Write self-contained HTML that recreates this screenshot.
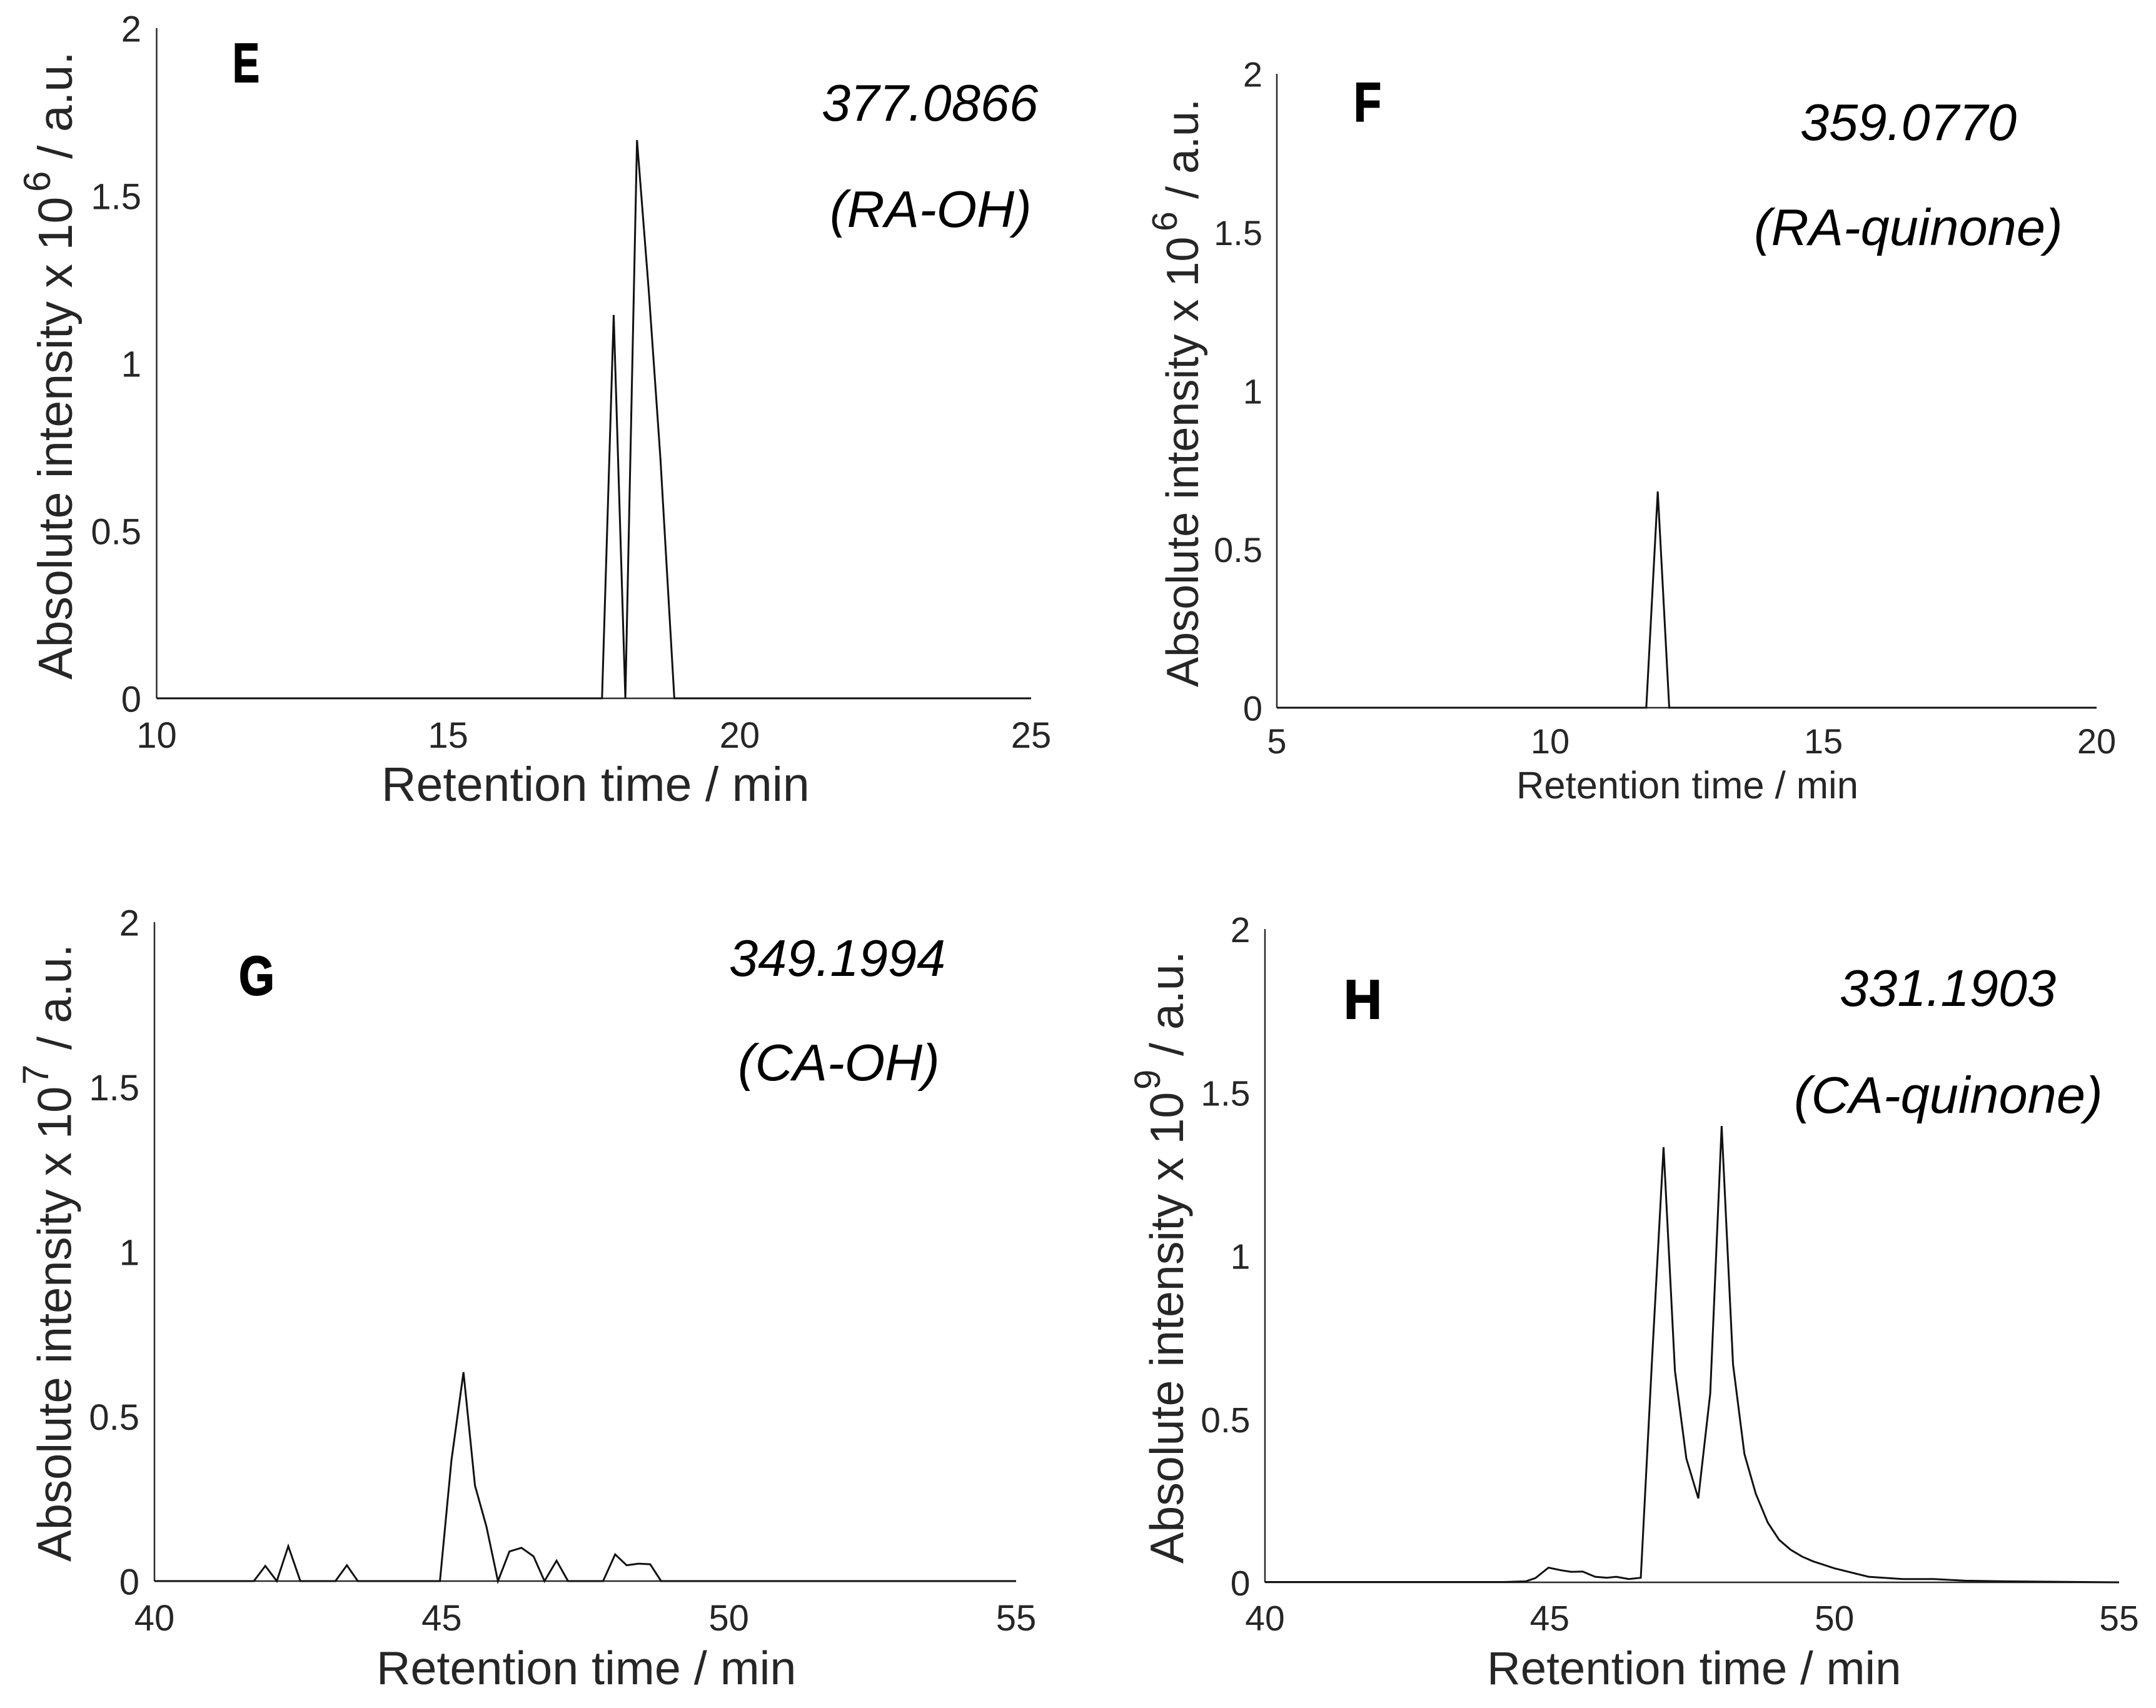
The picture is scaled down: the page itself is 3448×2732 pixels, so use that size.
<!DOCTYPE html>
<html lang="en">
<head>
<meta charset="utf-8">
<title>Retention time chromatograms E–H</title>
<style>
html,body{margin:0;padding:0;background:#fff;width:3448px;height:2732px;overflow:hidden}
svg{display:block;font-family:"Liberation Sans",Arial,sans-serif}
.tick{fill:#262626}
.title{fill:#262626}
.note{font-size:83px;font-style:italic;fill:#000}
.letter{font-size:88px;font-weight:bold;fill:#000;stroke:#000;stroke-width:2}
.axis{stroke:#2b2b2b;stroke-width:2.5;fill:none}
.trace{stroke:#111;stroke-width:3;fill:none;stroke-linejoin:miter}
</style>
</head>
<body>
<svg id="figure" xmlns="http://www.w3.org/2000/svg" width="3448" height="2732" viewBox="0 0 3448 2732">
  <rect width="3448" height="2732" fill="#fff"/>

  <!-- Panel E -->
  <g id="panel-e">
    <g class="title">
      <text transform="translate(115,1087) rotate(-90)" font-size="77.2">Absolute intensity x 10</text>
      <text transform="translate(80,307) rotate(-90)" font-size="60">6</text>
      <text transform="translate(115,254) rotate(-90)" font-size="77.2">/ a.u.</text>
    </g>
    <text class="title" x="610" y="1281" font-size="77">Retention time / min</text>
    <text class="letter" x="372" y="131" textLength="43" lengthAdjust="spacingAndGlyphs">E</text>
    <text class="note" x="1314" y="193">377.0866</text>
    <text class="note" x="1327" y="363">(RA-OH)</text>
  </g>

  <!-- Panel F -->
  <g id="panel-f">
    <g class="title">
      <text transform="translate(1916,1099) rotate(-90)" font-size="72">Absolute intensity x 10</text>
      <text transform="translate(1882,370) rotate(-90)" font-size="57">6</text>
      <text transform="translate(1916,318) rotate(-90)" font-size="72">/ a.u.</text>
    </g>
    <text class="title" x="2425" y="1277" font-size="61.5">Retention time / min</text>
    <text class="letter" x="2165" y="194" textLength="44" lengthAdjust="spacingAndGlyphs">F</text>
    <text class="note" x="2879" y="224">359.0770</text>
    <text class="note" x="2805" y="392">(RA-quinone)</text>
  </g>

  <!-- Panel G -->
  <g id="panel-g">
    <g class="title">
      <text transform="translate(113.5,2498) rotate(-90)" font-size="76">Absolute intensity x 10</text>
      <text transform="translate(77,1735) rotate(-90)" font-size="58">7</text>
      <text transform="translate(113.5,1679) rotate(-90)" font-size="76">/ a.u.</text>
    </g>
    <text class="title" x="602" y="2694" font-size="75.5">Retention time / min</text>
    <text class="letter" x="382" y="1591" textLength="57" lengthAdjust="spacingAndGlyphs">G</text>
    <text class="note" x="1166" y="1561">349.1994</text>
    <text class="note" x="1180" y="1728">(CA-OH)</text>
  </g>

  <!-- Panel H -->
  <g id="panel-h">
    <g class="title">
      <text transform="translate(1892,2501) rotate(-90)" font-size="75.4">Absolute intensity x 10</text>
      <text transform="translate(1855,1743) rotate(-90)" font-size="58">9</text>
      <text transform="translate(1892,1689) rotate(-90)" font-size="75.4">/ a.u.</text>
    </g>
    <text class="title" x="2378" y="2694" font-size="74.5">Retention time / min</text>
    <text class="letter" x="2149" y="1629" textLength="61" lengthAdjust="spacingAndGlyphs">H</text>
    <text class="note" x="2942" y="1609">331.1903</text>
    <text class="note" x="2869" y="1780">(CA-quinone)</text>
  </g>
</svg>

<script>
// ---- Shared intensity ticks ----
const yTickValues = [0, 0.5, 1, 1.5, 2];
const yTickLabels = ['0', '0.5', '1', '1.5', '2'];

// ---- Panel E ----
const xTicksE = [10, 15, 20, 25];
const timesE = [10, 17.64, 17.84, 18.04, 18.24, 18.44, 18.64, 18.88, 25];
const intensityE = [0, 0, 1.144, 0, 1.666, 1.22, 0.72, 0, 0];

// ---- Panel F ----
const xTicksF = [5, 10, 15, 20];
const timesF = [5, 11.76, 11.97, 12.18, 20];
const intensityF = [0, 0, 0.682, 0, 0];

// ---- Panel G ----
const xTicksG = [40, 45, 50, 55];
const timesG = [40, 41.73, 41.93, 42.13, 42.33, 42.54, 43.15, 43.35, 43.54, 44.97, 45.17, 45.38, 45.58, 45.78, 45.98, 46.18, 46.39, 46.6, 46.79, 47.0, 47.2, 47.81, 48.02, 48.22, 48.43, 48.63, 48.82, 55];
const intensityG = [0, 0, 0.046, 0, 0.106, 0, 0, 0.048, 0, 0, 0.366, 0.634, 0.29, 0.165, 0, 0.09, 0.101, 0.075, 0, 0.062, 0, 0, 0.081, 0.048, 0.053, 0.051, 0, 0];

// ---- Panel H ----
const xTicksH = [40, 45, 50, 55];
const timesH = [40, 44.2, 44.58, 44.75, 44.98, 45.2, 45.38, 45.58, 45.8, 46.0, 46.17, 46.39, 46.6, 46.8, 47.0, 47.2, 47.4, 47.61, 47.82, 48.02, 48.22, 48.42, 48.62, 48.83, 49.03, 49.23, 49.43, 49.63, 50.0, 50.6, 51.2, 51.75, 52.3, 53.0, 55];
const intensityH = [0.001, 0.001, 0.003, 0.013, 0.045, 0.037, 0.032, 0.033, 0.017, 0.014, 0.017, 0.01, 0.014, 0.69, 1.332, 0.647, 0.379, 0.257, 0.579, 1.397, 0.667, 0.393, 0.271, 0.183, 0.13, 0.1, 0.079, 0.064, 0.043, 0.017, 0.01, 0.01, 0.005, 0.003, 0];

const SVG_NS = 'http://www.w3.org/2000/svg';

function makeScale(d0, d1, r0, r1) {
  return function (v) { return r0 + (v - d0) / (d1 - d0) * (r1 - r0); };
}

function drawPanel(p) {
  const group = document.getElementById(p.id);
  const xScale = makeScale(p.xTicks[0], p.xTicks[p.xTicks.length - 1], p.left, p.right);
  const yScale = makeScale(yTickValues[0], yTickValues[yTickValues.length - 1], p.bottom, p.top);

  const yAxis = document.createElementNS(SVG_NS, 'line');
  yAxis.setAttribute('class', 'axis');
  yAxis.setAttribute('x1', p.left);
  yAxis.setAttribute('x2', p.left);
  yAxis.setAttribute('y1', yScale(yTickValues[yTickValues.length - 1]));
  yAxis.setAttribute('y2', yScale(0));
  
  
  group.appendChild(yAxis);

  const xAxis = document.createElementNS(SVG_NS, 'line');
  xAxis.setAttribute('class', 'axis');
  xAxis.setAttribute('x1', p.left);
  xAxis.setAttribute('x2', p.right);
  xAxis.setAttribute('y1', yScale(0));
  xAxis.setAttribute('y2', yScale(0));
  
  
  group.appendChild(xAxis);

  yTickValues.forEach(function (v, i) {
    const t = document.createElementNS(SVG_NS, 'text');
    t.setAttribute('class', 'tick');
    t.setAttribute('font-size', p.tickSize);
    t.setAttribute('text-anchor', 'end');
    t.setAttribute('x', p.yTickRight);
    t.setAttribute('y', yScale(v) + p.tickSize * 0.37);
    
    
    t.textContent = yTickLabels[i];
    group.appendChild(t);
  });

  p.xTicks.forEach(function (v) {
    const t = document.createElementNS(SVG_NS, 'text');
    t.setAttribute('class', 'tick');
    t.setAttribute('font-size', p.tickSize);
    t.setAttribute('text-anchor', 'middle');
    t.setAttribute('x', xScale(v));
    t.setAttribute('y', p.xTickBaseline);
    
    
    t.textContent = String(v);
    group.appendChild(t);
  });

  const trace = document.createElementNS(SVG_NS, 'polyline');
  trace.setAttribute('class', 'trace');
  trace.setAttribute('points', p.times.map(function (t, i) {
    return xScale(t).toFixed(2) + ',' + yScale(p.values[i]).toFixed(2);
  }).join(' '));
  
  
  group.appendChild(trace);
}

drawPanel({id: 'panel-e', left: 250.5, right: 1649, top: 45, bottom: 1117, tickSize: 58, yTickRight: 226, xTickBaseline: 1196, xTicks: xTicksE, times: timesE, values: intensityE});
drawPanel({id: 'panel-f', left: 2042, right: 3353, top: 118, bottom: 1132, tickSize: 56, yTickRight: 2019, xTickBaseline: 1205, xTicks: xTicksF, times: timesF, values: intensityF});
drawPanel({id: 'panel-g', left: 247, right: 1625, top: 1475, bottom: 2529, tickSize: 58, yTickRight: 223, xTickBaseline: 2608, xTicks: xTicksG, times: timesG, values: intensityG});
drawPanel({id: 'panel-h', left: 2023, right: 3389, top: 1486, bottom: 2531, tickSize: 57, yTickRight: 1999.5, xTickBaseline: 2608, xTicks: xTicksH, times: timesH, values: intensityH});
</script>
</body>
</html>
